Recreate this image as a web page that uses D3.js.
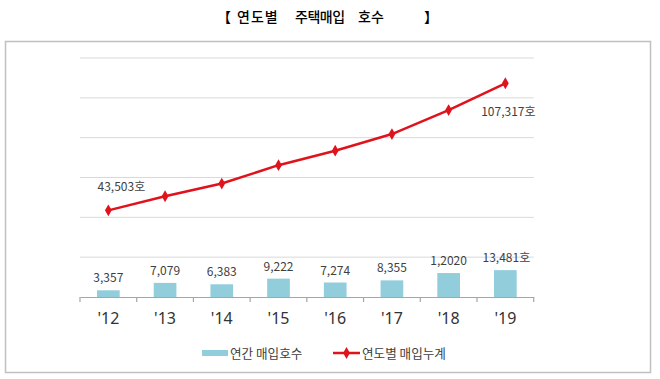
<!DOCTYPE html>
<html><head><meta charset="utf-8">
<script src="https://cdn.jsdelivr.net/npm/d3@7/dist/d3.min.js"></script>
<style>
html,body{margin:0;padding:0;background:#fff;}
svg{display:block;font-family:"Noto Sans CJK KR","Noto Sans",sans-serif;}
</style></head>
<body>
<svg id="chart" width="660" height="379"></svg>
<script>
const years = ["'12","'13","'14","'15","'16","'17","'18","'19"];
const annual = [3357, 7079, 6383, 9222, 7274, 8355, 12020, 13481];
const annualLabels = ["3,357","7,079","6,383","9,222","7,274","8,355","1,2020","13,481호"];
const cumulative = [43503, 50582, 56965, 66187, 73461, 81816, 93836, 107317];
const cumulativeLabels = ["43,503호","","","","","","","107,317호"];
const yTicks = [0, 20000, 40000, 60000, 80000, 100000, 120000];
const titleParts = ["【", "연도별", "주택매입", "호수", "】"];
const legendNames = ["연간 매입호수", "연도별 매입누계"];

const svg = d3.select("#chart");
// outer frame
svg.append("rect").attr("x",5.5).attr("y",41.5).attr("width",645).attr("height",331)
  .attr("fill","#fff").attr("stroke","#c0c0c0").attr("stroke-width",1.5);

const titleX = [217, 237, 295, 358, 424];
const titleSpacing = [0, 1, -0.5, 0, 0];
const tt = svg.append("text").attr("y",21.5).attr("fill","#000").attr("font-size",14)
  .attr("font-weight",500);
tt.selectAll("tspan").data(titleParts).join("tspan")
  .attr("x",(d,i)=>titleX[i])
  .attr("letter-spacing",(d,i)=>titleSpacing[i]).text(d=>d);

const x = d3.scaleBand().domain(years).range([80, 533.7]);
const y = d3.scaleLinear().domain([0,120000]).range([297, 58]);

// gridlines
svg.append("g").selectAll("line").data(yTicks.slice(1)).join("line")
  .attr("x1",80).attr("x2",533.7).attr("y1",d=>y(d)).attr("y2",d=>y(d))
  .attr("stroke","#d9d9d9").attr("stroke-width",1);

// bars
const bw = x.bandwidth()*0.4;
svg.append("g").selectAll("rect").data(annual).join("rect")
  .attr("x",(d,i)=>x(years[i])+x.bandwidth()/2-bw/2)
  .attr("y",d=>y(d)).attr("width",bw).attr("height",d=>y(0)-y(d))
  .attr("fill","#92cddc");

svg.append("g").selectAll("text").data(annual).join("text")
  .attr("x",(d,i)=>x(years[i])+x.bandwidth()/2 + (i===7?1:0))
  .attr("y",d=>y(d)-8).attr("text-anchor","middle")
  .attr("font-size",12).attr("fill","#404040")
  .text((d,i)=>annualLabels[i]);

// x axis
const xAxis = d3.axisBottom(x).tickSize(0).tickPadding(16);
const ax = svg.append("g").attr("transform","translate(0,297)").call(xAxis);
ax.select(".domain").attr("stroke","#a6a6a6").attr("stroke-width",1.2);
ax.selectAll("text").attr("font-size",16).attr("fill","#333").attr("font-family","\"Noto Sans\",sans-serif");
const bounds = years.map(v=>x(v)).concat([533.7]);
ax.selectAll(".tk").data(bounds).join("line").attr("class","tk")
  .attr("x1",d=>d).attr("x2",d=>d).attr("y1",0).attr("y2",5)
  .attr("stroke","#a6a6a6").attr("stroke-width",1.2);

// line
const cx = (d,i)=>x(years[i])+x.bandwidth()/2;
const line = d3.line().x(cx).y(d=>y(d));
svg.append("path").datum(cumulative).attr("d",line)
  .attr("fill","none").attr("stroke","#e0121b").attr("stroke-width",2.5);
const diamond = d3.symbol().type(d3.symbolDiamond).size(40);
svg.append("g").selectAll("path").data(cumulative).join("path")
  .attr("d",diamond).attr("transform",(d,i)=>`translate(${cx(d,i)},${y(d)})`)
  .attr("fill","#e0121b");

svg.append("g").selectAll("text").data(cumulative).join("text")
  .attr("x",(d,i)=>cx(d,i)+(i===0?13:3))
  .attr("y",(d,i)=>i===0?y(d)-19:y(d)+33)
  .attr("text-anchor","middle").attr("font-size",12).attr("fill","#404040")
  .text((d,i)=>cumulativeLabels[i]);

// legend
const lg = svg.append("g");
lg.append("rect").attr("x",202).attr("y",350).attr("width",26).attr("height",6).attr("fill","#92cddc");
lg.append("text").attr("x",230).attr("y",357.5).attr("font-size",12.6).attr("fill","#404040").text(legendNames[0]);
lg.append("line").attr("x1",333).attr("x2",360).attr("y1",353).attr("y2",353).attr("stroke","#e0121b").attr("stroke-width",2.5);
lg.append("path").attr("d",diamond).attr("transform","translate(346.5,353)").attr("fill","#e0121b");
lg.append("text").attr("x",362).attr("y",357.5).attr("font-size",12.6).attr("fill","#404040").text(legendNames[1]);
</script>
</body></html>
